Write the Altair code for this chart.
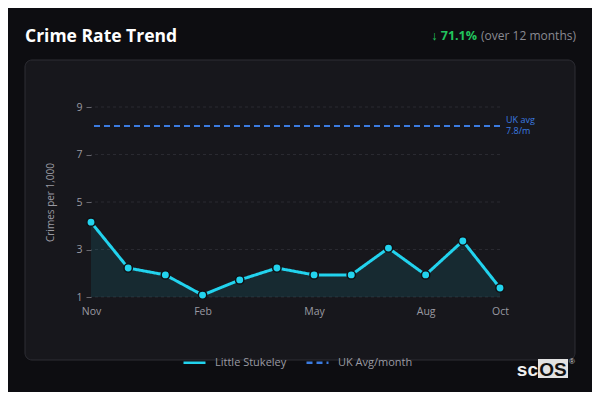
import altair as alt
import pandas as pd

months = ["Nov", "Dec", "Jan", "Feb", "Mar", "Apr", "May", "Jun", "Jul", "Aug", "Sep", "Oct"]
rates = [4.15, 2.22, 1.93, 1.08, 1.72, 2.22, 1.93, 1.93, 3.06, 1.93, 3.36, 1.38]
series_names = ["Little Stukeley", "UK Avg/month"]
uk_avg_line = [8.2]
uk_label = "UK avg\n7.8/m"
axis_months = ["Nov", "Feb", "May", "Aug", "Oct"]
y_ticks = [1, 3, 5, 7, 9]

CYAN = "#22d3ee"
BLUE = "#3b7be0"
BG = "#0d0d11"
CARD = "#17171c"
FONT = "Open Sans"

df = pd.DataFrame({"month": months, "rate": rates, "series": series_names[0]})
uk_df = pd.DataFrame({"rate": uk_avg_line, "series": series_names[1]})
grid_df = pd.DataFrame({"rate": y_ticks})
one = pd.DataFrame({"a": [0]})

xaxis = alt.Axis(values=axis_months, title=None, ticks=False, domain=False,
                 labelAngle=0, labelPadding=9, labelColor="#9a9aa2",
                 labelFontSize=10.5, labelFont=FONT, grid=False, zindex=2)
yaxis = alt.Axis(values=y_ticks, title="Crimes per 1,000", domain=False, grid=False,
                 tickColor="#66666e", tickSize=5, labelPadding=4, zindex=2,
                 labelColor="#9a9aa2", labelFontSize=10.5, labelFont=FONT,
                 titleColor="#9a9aa2", titleFontSize=10, titleFont=FONT,
                 titleFontWeight="normal", titleX=-41, titleY=95,
                 titleAlign="center", titleBaseline="middle")
xenc = alt.X("month:O", sort=months, scale=alt.Scale(type="point", padding=0), axis=xaxis)
yscale = alt.Scale(domain=[1, 9], nice=False, zero=False)
yenc = alt.Y("rate:Q", scale=yscale, axis=yaxis)

leg = dict(title=None, orient="none", legendX=91, legendY=243,
           direction="horizontal", symbolType="stroke",
           symbolSize=484, symbolStrokeWidth=2.5,
           labelColor="#9a9aa2", labelFontSize=11, labelFont=FONT,
           columnPadding=14, labelOffset=8)
color = alt.Color("series:N", scale=alt.Scale(domain=series_names, range=[CYAN, BLUE]),
                  legend=alt.Legend(**leg))
dash = alt.StrokeDash("series:N", scale=alt.Scale(domain=series_names, range=[[1, 0], [6, 4]]),
                      legend=alt.Legend(**leg))

card = alt.Chart(one).mark_rect(fill=CARD, stroke="#2e2e35", strokeWidth=1, cornerRadius=7).encode(
    x=alt.value(-66), x2=alt.value(484), y=alt.value(-47), y2=alt.value(253))

title = alt.Chart(one).mark_text(text="Crime Rate Trend", font=FONT, fontSize=17.5, fontWeight="bold",
                                 color="#ffffff", align="left", baseline="middle").encode(
    x=alt.value(-66), y=alt.value(-70))
change = alt.Chart(one).mark_text(text="↓ 71.1%", font=FONT, fontSize=12.5, fontWeight="bold",
                                  color="#22c55e", align="right", baseline="middle").encode(
    x=alt.value(386), y=alt.value(-71))
change2 = alt.Chart(one).mark_text(text="(over 12 months)", font=FONT, fontSize=12,
                                   color="#8a8a92", align="right", baseline="middle").encode(
    x=alt.value(485), y=alt.value(-71))

grid = alt.Chart(grid_df).mark_rule(color="#2a2a31", strokeWidth=1, strokeDash=[3, 3]).encode(
    y=alt.Y("rate:Q", scale=yscale, axis=yaxis))
area = alt.Chart(df).mark_area(color=CYAN, opacity=0.1).encode(
    x=xenc, y=yenc, y2=alt.datum(1))
line = alt.Chart(df).mark_line(strokeWidth=3).encode(x=xenc, y=yenc, color=color, strokeDash=dash)
pts = alt.Chart(df).mark_point(filled=True, size=70, fill=CYAN, stroke="#101014", strokeWidth=1.5,
                               opacity=1).encode(x=xenc, y=yenc)
rule = alt.Chart(uk_df).mark_rule(strokeWidth=2).encode(y=alt.Y("rate:Q", scale=yscale),
                                                        color=color, strokeDash=dash)
uk_text = alt.Chart(uk_df).mark_text(text=uk_label, lineBreak="\n", lineHeight=11, font=FONT,
                                     fontSize=9, color=BLUE, align="left", baseline="middle",
                                     dy=-6).encode(
    x=alt.value(415), y=alt.Y("rate:Q", scale=yscale))

logo_box = alt.Chart(one).mark_rect(fill="#e2e2e2").encode(
    x=alt.value(447), x2=alt.value(477), y=alt.value(252), y2=alt.value(271))
logo_sc = alt.Chart(one).mark_text(text="sc", font="Liberation Sans", fontSize=19, fontWeight="bold",
                                   color="#f0f0f0", align="right", baseline="alphabetic").encode(
    x=alt.value(447), y=alt.value(269))
logo_os = alt.Chart(one).mark_text(text="OS", font="Liberation Sans", fontSize=19, fontWeight="bold",
                                   color="#111111", align="center", baseline="alphabetic").encode(
    x=alt.value(462), y=alt.value(269))
logo_r = alt.Chart(one).mark_text(text="®", font="Liberation Sans", fontSize=8,
                                  color="#d0d0d0", align="left", baseline="middle").encode(
    x=alt.value(478), y=alt.value(255))

chart = alt.layer(card, title, change, change2, grid, area, rule, uk_text, line, pts,
                  logo_box, logo_sc, logo_os, logo_r).properties(
    width=409, height=190,
    autosize=alt.AutoSizeParams(type="none"),
    padding={"left": 83, "top": 99, "right": 92, "bottom": 95},
    background=BG,
).configure_view(stroke=None).configure(font=FONT)

chart.save("out.html", embed_options={"renderer": "svg", "actions": False})
